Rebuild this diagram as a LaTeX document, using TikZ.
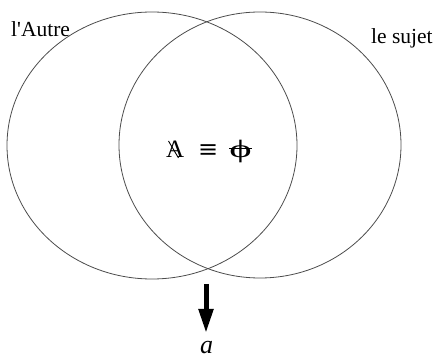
\documentclass[tikz,border=0pt]{standalone}
\usepackage{fontspec}
\setmainfont{Liberation Serif}
\newfontfamily\symfont{DejaVu Serif}
\usetikzlibrary{arrows.meta}
\begin{document}
\begin{tikzpicture}[x=1pt,y=-1pt,
  ring/.style={draw=black!70, line width=0.8pt},
  lbl/.style={inner sep=0pt, anchor=base west, font=\fontsize{21.5}{24}\selectfont},
  strike/.style={line width=0.9pt, black}]
\useasboundingbox (0,0) rectangle (434,358);
\draw[ring] (152,145.5) ellipse [x radius=145, y radius=133.5];
\draw[ring] (260,145) ellipse [x radius=141, y radius=133];
\node[lbl] (autre) at (11,37) {l\textquotesingle Autre};
\node[lbl] (sujet) at (371,44) {le sujet};
\node[lbl, font=\fontsize{25}{28}\selectfont] (A) at (166,158) {A};
\draw[strike] (168.5,141) -- (178.5,158);
\node[lbl, font=\fontsize{24}{28}\selectfont\symfont] (eq) at (198,158) {≡};
\node[lbl, font=\fontsize{25}{28}\selectfont, xscale=1.7, yscale=1, transform shape] (phi) at (229,158) {ϕ};
\draw[strike, line width=0.8pt] (phi.west |- 0,148.5) -- (phi.east |- 0,148.5);
\coordinate (top) at (206,284);
\coordinate (tip) at (206,333);
\draw[line width=5pt, -{Triangle[width=14pt,length=24pt]}] (top) -- (tip);
\node[lbl, anchor=base, font=\fontsize{26}{28}\selectfont\itshape] (a) at (206.5,353) {a};
\end{tikzpicture}
\end{document}
